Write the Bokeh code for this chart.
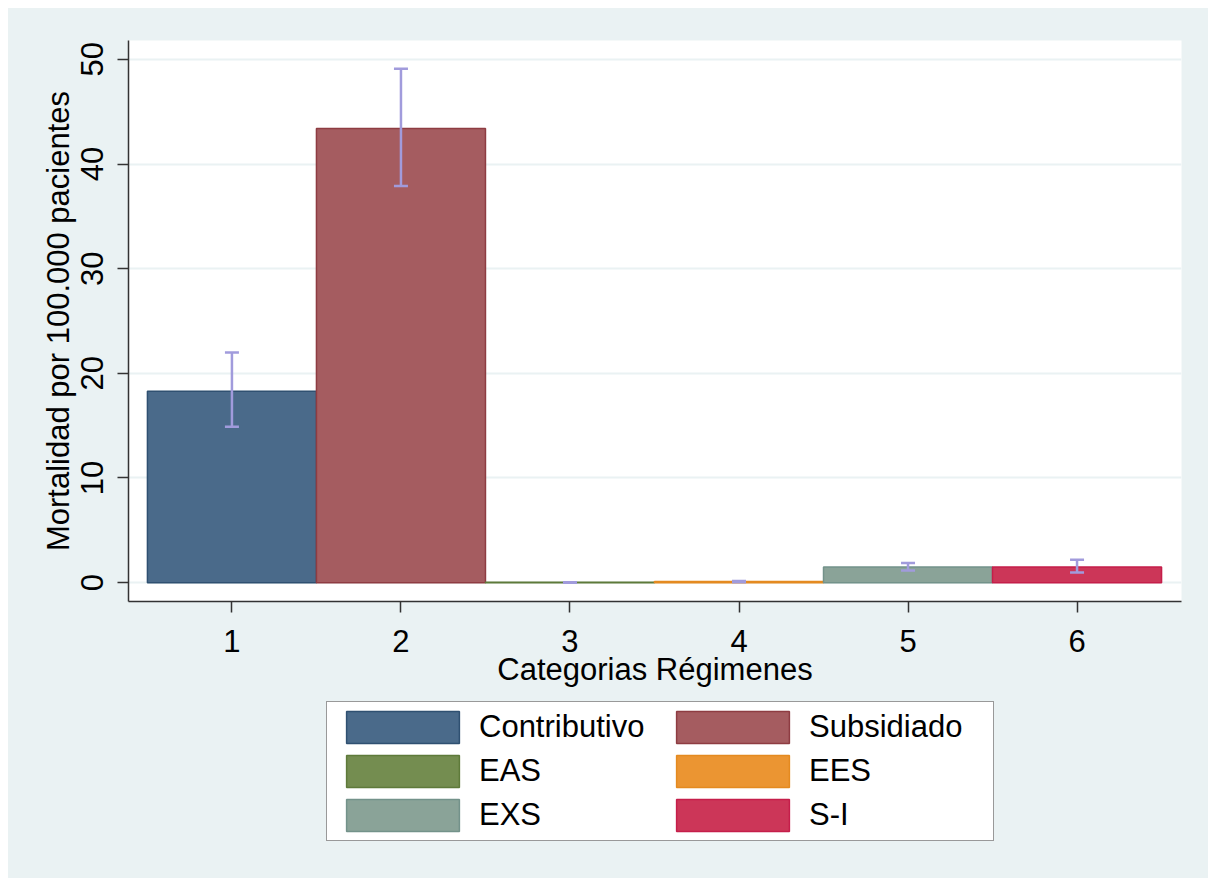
from bokeh.plotting import figure
from bokeh.layouts import column
from bokeh.models import ColumnDataSource, Whisker, TeeHead, Legend, LegendItem, FixedTicker, Range1d
from bokeh.embed import file_html
from bokeh.resources import INLINE

categories = [1, 2, 3, 4, 5, 6]
names = ["Contributivo", "Subsidiado", "EAS", "EES", "EXS", "S-I"]
values = [18.3, 43.4, 0.03, 0.1, 1.5, 1.5]
ci_low = [14.9, 37.9, 0.0, 0.05, 1.15, 0.97]
ci_high = [22.0, 49.1, 0.05, 0.17, 1.87, 2.2]
y_ticks = [0, 10, 20, 30, 40, 50]
fills = ["#4A6A8A", "#A55C60", "#748D50", "#EB9532", "#8AA398", "#CC3658"]
lines = ["#2F5071", "#8E3C42", "#5E7A3A", "#E48A20", "#73928A", "#C51E4A"]

BG = "#EAF2F3"
FONT = "Liberation Sans"
FS = "31px"

p = figure(width=1200, height=685, output_backend="svg", toolbar_location=None,
           x_range=Range1d(0.388, 6.618), y_range=Range1d(-1.8, 51.8),
           background_fill_color="white", border_fill_color=BG,
           min_border_left=120, min_border_right=27, min_border_top=32, min_border_bottom=92)
p.outline_line_color = None

# legend panel figure (no axes), transparent so the layout background shows
p2 = figure(width=1200, height=185, output_backend="svg", toolbar_location=None,
            x_range=Range1d(0, 1), y_range=Range1d(0, 1),
            x_axis_location=None, y_axis_location=None,
            background_fill_color=None, border_fill_color=None,
            min_border_left=0, min_border_right=0, min_border_top=0, min_border_bottom=0)
p2.outline_line_color = None
p2.grid.visible = False

items = []
for i in range(6):
    src = ColumnDataSource(dict(x=[categories[i]], top=[values[i]]))
    p.vbar(x="x", top="top", bottom=0, width=1.0, source=src,
           fill_color=fills[i], line_color=lines[i], line_width=1.5)
    r2 = p2.vbar(x="x", top="top", bottom=0, width=1.0, source=src,
                 fill_color=fills[i], line_color=lines[i], line_width=1.5, visible=False)
    items.append(LegendItem(label=names[i], renderers=[r2]))

esrc = ColumnDataSource(dict(x=categories, lo=ci_low, hi=ci_high))
wcol = "#A19BDC"
w = Whisker(base="x", lower="lo", upper="hi", source=esrc, level="overlay",
            line_color=wcol, line_width=2.5,
            upper_head=TeeHead(size=14, line_color=wcol, line_width=2.5),
            lower_head=TeeHead(size=14, line_color=wcol, line_width=2.5))
p.add_layout(w)

p.xgrid.grid_line_color = None
p.ygrid.grid_line_color = BG
p.ygrid.grid_line_width = 2
p.ygrid.ticker = FixedTicker(ticks=y_ticks)

p.xaxis.ticker = FixedTicker(ticks=categories)
p.yaxis.ticker = FixedTicker(ticks=y_ticks)
for ax in (p.xaxis[0], p.yaxis[0]):
    ax.axis_line_color = "#333333"
    ax.axis_line_width = 1.5
    ax.major_tick_line_color = "#333333"
    ax.major_tick_line_width = 1.5
    ax.major_tick_out = 11
    ax.major_tick_in = 0
    ax.minor_tick_line_color = None
    ax.major_label_text_font = FONT
    ax.major_label_text_font_size = FS
    ax.major_label_text_color = "black"
    ax.axis_label_text_font = FONT
    ax.axis_label_text_font_size = FS
    ax.axis_label_text_font_style = "normal"
    ax.axis_label_text_color = "black"

p.xaxis.axis_label = "Categorias Régimenes"
p.yaxis.axis_label = "Mortalidad por 100.000 pacientes"
p.yaxis.major_label_orientation = "vertical"
p.xaxis.major_label_standoff = 17
p.xaxis.axis_label_standoff = -3
p.yaxis.major_label_standoff = 14
p.yaxis.axis_label_standoff = 3

legend = Legend(items=items, orientation="horizontal", ncols=2, nrows=3,
                location=(198, 37), glyph_width=141, glyph_height=40,
                label_standoff=6, label_width=179, spacing=4, padding=5,
                label_text_font=FONT, label_text_font_size=FS,
                label_text_color="black",
                border_line_color="#333333", border_line_width=1.5,
                background_fill_color="white", background_fill_alpha=1.0,
                margin=0)
p2.add_layout(legend, "center")

layout = column(p, p2, spacing=0, margin=(8, 0, 0, 8),
                styles={"background-color": BG})
open("out.html", "w").write(file_html(layout, INLINE))
